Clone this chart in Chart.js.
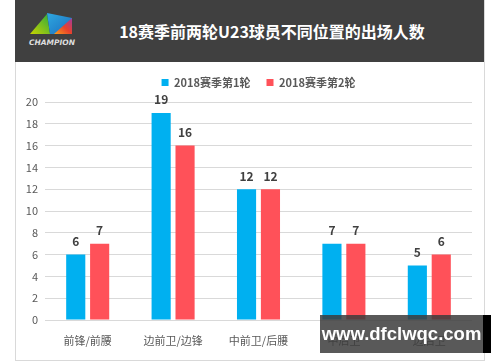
<!DOCTYPE html>
<html>
<head>
<meta charset="utf-8">
<script src="https://cdn.jsdelivr.net/npm/chart.js@4"></script>
<style>
  html, body { margin: 0; padding: 0; background: #fff; }
  #wrap { position: relative; width: 500px; height: 362px; overflow: hidden; font-family: "Noto Sans CJK SC", "Noto Sans", sans-serif; }
  #panel { position: absolute; left: 15px; top: 0; width: 468px; height: 360px; border: 1px solid #d9d9d9; border-top: none; box-sizing: content-box; }
  #header { position: absolute; left: 15px; top: 0; width: 469px; height: 62px; background: #404040; }
  #title { position: absolute; left: 15px; width: 514px; top: 19px; text-align: center; color: #fff; font-size: 16px; font-weight: bold; line-height: 24px; }
  #logo { position: absolute; left: 26px; top: 10px; }
  #chart { position: absolute; left: 0; top: 0; }
  #wm { position: absolute; left: 320px; top: 315px; width: 163px; height: 38px; background: rgba(60,60,60,0.85); border-right: 8px solid #000; color: #fff; font-family: "Liberation Sans", Arial, sans-serif; font-weight: bold; font-size: 18.5px; line-height: 38px; text-align: center; }
</style>
</head>
<body>
<div id="wrap">
  <div id="panel"></div>
  <div id="header"></div>
  <svg id="logo" width="56" height="40" viewBox="0 0 56 40">
    <defs>
      <linearGradient id="gg" x1="0" y1="1" x2="1" y2="0">
        <stop offset="0" stop-color="#c8d400"/>
        <stop offset="1" stop-color="#2eaa3c"/>
      </linearGradient>
      <linearGradient id="bg" x1="0" y1="0" x2="1" y2="1">
        <stop offset="0" stop-color="#2fa8e0"/>
        <stop offset="1" stop-color="#1b6fc0"/>
      </linearGradient>
      <linearGradient id="rg" x1="0" y1="1" x2="1" y2="0">
        <stop offset="0" stop-color="#f7a21b"/>
        <stop offset="0.5" stop-color="#e8412c"/>
        <stop offset="1" stop-color="#a03aa0"/>
      </linearGradient>
    </defs>
    <polygon points="4,24 21,4 24,24" fill="url(#gg)"/>
    <polygon points="21,3 46,8 46,24 24,24" fill="url(#bg)"/>
    <polygon points="28,24 46,8 46,24" fill="url(#rg)"/>
    <text x="3" y="35" font-family="DejaVu Sans" font-size="7.5" font-weight="bold" font-style="italic" fill="#ddd">CHAMPION</text>
  </svg>
  <div id="title">18赛季前两轮U23球员不同位置的出场人数</div>
  <canvas id="chart" width="500" height="362"></canvas>
  <div id="wm">www.dfclwqc.com</div>
</div>
<script>
const CATEGORIES = ['前锋/前腰', '边前卫/边锋', '中前卫/后腰', '中后卫', '边后卫'];
const ROUND1 = [6, 19, 12, 7, 5];
const ROUND2 = [7, 16, 12, 7, 6];
const SERIES_NAMES = ['2018赛季第1轮', '2018赛季第2轮'];
const Y_TICKS = [0, 2, 4, 6, 8, 10, 12, 14, 16, 18, 20];

const COLORS = {
  blue: '#00B0F0',
  red:  '#FF5159',
  text: '#595959',
  label: '#404040',
  grid: '#d9d9d9'
};

const FONT = '"Noto Sans CJK SC", "Noto Sans", sans-serif';

// values drawn above each bar
const valueLabels = {
  id: 'valueLabels',
  afterDatasetsDraw(chart) {
    const { ctx } = chart;
    ctx.save();
    ctx.textAlign = 'center';
    ctx.textBaseline = 'middle';
    ctx.font = 'bold 12px ' + FONT;
    ctx.fillStyle = COLORS.label;
    chart.data.datasets.forEach((ds, di) => {
      chart.getDatasetMeta(di).data.forEach((bar, i) => {
        ctx.fillText(ds.data[i], bar.x, bar.y - 13);
      });
    });
    ctx.restore();
  }
};

new Chart(document.getElementById('chart'), {
  type: 'bar',
  data: {
    labels: CATEGORIES,
    datasets: [
      { label: SERIES_NAMES[0], data: ROUND1, backgroundColor: COLORS.blue },
      { label: SERIES_NAMES[1], data: ROUND2, backgroundColor: COLORS.red }
    ]
  },
  options: {
    responsive: false,
    animation: false,
    layout: { padding: { top: 61, right: 28, left: 0, bottom: 0 } },
    datasets: { bar: { categoryPercentage: 0.56, barPercentage: 0.8 } },
    scales: {
      x: {
        grid: { display: false },
        border: { display: false },
        ticks: { color: COLORS.text, font: { family: FONT, size: 11 }, padding: 6 },
        afterFit: s => { s.height = 42; }
      },
      y: {
        min: 0, max: 20,
        afterBuildTicks: s => { s.ticks = Y_TICKS.map(v => ({ value: v })); },
        grid: { color: COLORS.grid, drawTicks: false, lineWidth: 1 },
        border: { display: false },
        ticks: { color: COLORS.text, font: { family: FONT, size: 11 }, padding: 7 },
        afterFit: s => { s.width = 45; }
      }
    },
    plugins: {
      legend: {
        position: 'top',
        fullSize: false, // centre the legend over the plot area
        labels: {
          boxWidth: 7, boxHeight: 7, padding: 16,
          color: COLORS.text,
          font: { family: FONT, size: 11, weight: 'bold' }
        }
      },
      // empty spacer between legend and plot
      subtitle: {
        display: true, text: '', weight: 500, fullSize: false,
        font: { size: 1, lineHeight: 1 },
        padding: { top: 3, bottom: 0 }
      },
      tooltip: { enabled: false }
    }
  },
  plugins: [valueLabels]
});
</script>
</body>
</html>
